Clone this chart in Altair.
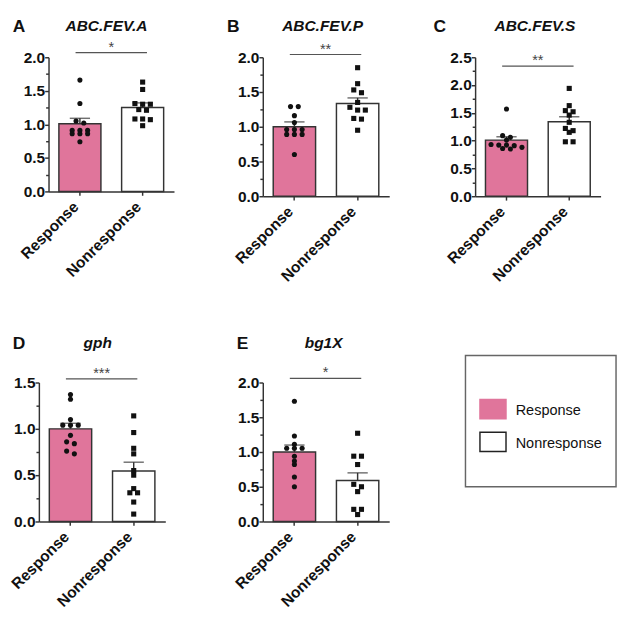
import altair as alt
import pandas as pd

# ---------------- data ----------------
groups = ["Response", "Nonresponse"]
panel_letters = ["A", "B", "C", "D", "E"]
panel_titles = ["ABC.FEV.A", "ABC.FEV.P", "ABC.FEV.S", "gph", "bg1X"]
y_max = [2.0, 2.0, 2.5, 1.5, 2.0]
stars = ["*", "**", "**", "***", "*"]
sig_y = [2.07, 2.04, 2.34, 1.54, 2.06]

resp_A = [1.66, 1.31, 1.05, 1.02, 0.91, 0.91, 0.91, 0.86, 0.86, 0.86, 0.74]
non_A = [1.63, 1.52, 1.31, 1.30, 1.30, 1.22, 1.21, 1.08, 1.08, 1.07, 0.98]
resp_B = [1.29, 1.29, 1.16, 1.06, 0.96, 0.96, 0.96, 0.89, 0.89, 0.89, 0.60]
non_B = [1.85, 1.62, 1.53, 1.49, 1.35, 1.28, 1.24, 1.24, 1.12, 1.11, 0.95]
resp_C = [1.57, 1.09, 1.06, 1.01, 0.93, 0.92, 0.92, 0.91, 0.88, 0.86, 0.85]
non_C = [1.94, 1.63, 1.54, 1.52, 1.46, 1.33, 1.22, 1.18, 1.15, 0.98, 0.98]
resp_D = [1.37, 1.32, 1.10, 1.04, 1.04, 1.04, 0.93, 0.86, 0.84, 0.76, 0.73]
non_D = [1.14, 0.96, 0.79, 0.73, 0.55, 0.50, 0.355, 0.31, 0.31, 0.21, 0.08]
resp_E = [1.73, 1.23, 1.11, 1.055, 1.055, 1.055, 0.94, 0.87, 0.82, 0.64, 0.50]
non_E = [1.27, 0.94, 0.94, 0.82, 0.535, 0.50, 0.43, 0.175, 0.175, 0.10]

resp_values = [resp_A, resp_B, resp_C, resp_D, resp_E]
non_values = [non_A, non_B, non_C, non_D, non_E]

bar_means = [[1.01, 1.25], [1.00, 1.335], [1.01, 1.34], [1.00, 0.545], [1.00, 0.59]]
bar_sem = [[0.08, 0.07], [0.07, 0.08], [0.06, 0.09], [0.06, 0.095], [0.10, 0.11]]

# ---------------- layout / style ----------------
PINK = "#E0759B"
DARK = "#333333"
FONT = "Liberation Sans"
PW = [130, 131, 130, 131, 131]
PH = [139, 144, 144, 144, 144]
XSHIFT = [0, 0, 0, 10, 0]          # axis pulled left of the cell origin
letter_dx = [-37, -37, -43, -37, -27]
title_cx = [60, 62, 62, 61, 63]
head_y = [-40, -40, -40, -49, -49]
P_INNER, P_OUTER = 0.33, 0.165


def swarm(vals, ymax, h, spacing=8.0, tol=3.0):
    order = sorted(range(len(vals)), key=lambda k: -vals[k])
    offs = [0.0] * len(vals)
    rows = []
    for k in order:
        py = vals[k] / ymax * h
        if rows and abs(rows[-1][0] - py) <= tol:
            rows[-1][1].append(k)
        else:
            rows.append([py, [k]])
    for _, idx in rows:
        n = len(idx)
        for j, k in enumerate(idx):
            offs[k] = (j - (n - 1) / 2) * spacing
    return offs


def panel(i):
    W, H, S = PW[i], PH[i], XSHIFT[i]
    step = W / (2 - P_INNER + 2 * P_OUTER)
    bw = step * (1 - P_INNER)

    ysc = alt.Scale(domain=[0, y_max[i]], nice=False, zero=True)
    xsc = alt.Scale(domain=groups, paddingInner=P_INNER, paddingOuter=P_OUTER,
                    range=[-S, W - S])
    xax = alt.Axis(title=None, labelAngle=-45, labelAlign="right", labelBaseline="middle",
                   tickSize=4, labelPadding=9, labelOffset=-4,
                   domainColor=DARK, tickColor=DARK)
    xenc = alt.X("group:N", scale=xsc, axis=xax)

    nmaj = int(round(y_max[i] / 0.5))
    major_vals = [k * 0.5 for k in range(nmaj + 1)]
    minor_vals = [k * 0.5 + 0.25 for k in range(nmaj)]
    major = alt.Axis(title=None, values=major_vals, format=".1f", tickSize=4,
                     labelPadding=0, labelOverlap=False, orient="left", grid=False,
                     offset=S)
    minor = alt.Axis(title=None, values=minor_vals, labels=False, domain=False,
                     tickSize=3, orient="left", grid=False, offset=S)

    bars_df = pd.DataFrame({
        "group": groups,
        "mean": bar_means[i],
        "top": [m + s for m, s in zip(bar_means[i], bar_sem[i])],
    })

    rv, nv = resp_values[i], non_values[i]
    offs = swarm(rv, y_max[i], H) + swarm(nv, y_max[i], H)
    pts_df = pd.DataFrame({
        "group": ["Response"] * len(rv) + ["Nonresponse"] * len(nv),
        "value": rv + nv,
        "off": [bw / 2 + o for o in offs],
    })

    bars = alt.Chart(bars_df).mark_bar(stroke=DARK, strokeWidth=1.5).encode(
        x=xenc,
        y=alt.Y("mean:Q", scale=ysc, axis=major),
        fill=alt.Fill("group:N", scale=alt.Scale(domain=groups, range=[PINK, "white"]), legend=None),
    )
    err = alt.Chart(bars_df).mark_rule(color=DARK, strokeWidth=1.5).encode(
        x=xenc,
        y=alt.Y("mean:Q", scale=ysc, axis=minor),
        y2="top:Q",
    )
    cap = alt.Chart(bars_df).mark_tick(color=DARK, thickness=1.5, size=21).encode(
        x=xenc,
        y=alt.Y("top:Q", scale=ysc, axis=None),
    )
    pts = alt.Chart(pts_df).mark_point(filled=True, color="#111111", opacity=1, size=28).encode(
        x=xenc,
        xOffset=alt.XOffset("off:Q", scale=None),
        y=alt.Y("value:Q", scale=ysc, axis=None),
        shape=alt.Shape("group:N", scale=alt.Scale(domain=groups, range=["circle", "square"]), legend=None),
    )
    one = pd.DataFrame({"letter": [panel_letters[i]], "title": [panel_titles[i]], "star": [stars[i]]})
    sig = alt.Chart(one).mark_rule(color="#555555", strokeWidth=1.2).encode(
        x=alt.value(28 - S), x2=alt.value(102 - S),
        y=alt.YDatum(sig_y[i], type="quantitative", scale=ysc, axis=None),
    )
    star = alt.Chart(one).mark_text(font=FONT, fontSize=15, color="#444444",
                                    baseline="alphabetic", dy=-1).encode(
        x=alt.value(65 - S),
        y=alt.YDatum(sig_y[i], type="quantitative", scale=ysc, axis=None),
        text="star:N",
    )
    letter = alt.Chart(one).mark_text(font=FONT, fontSize=18, fontWeight="bold", color="#111111",
                                      align="left", baseline="top").encode(
        x=alt.value(letter_dx[i]), y=alt.value(head_y[i]), text="letter:N")
    title = alt.Chart(one).mark_text(font=FONT, fontSize=16, fontWeight="bold", fontStyle="italic",
                                     color="#111111", align="center", baseline="top").encode(
        x=alt.value(title_cx[i] - S), y=alt.value(head_y[i]), text="title:N")

    return alt.layer(bars, err, cap, pts, sig, star, letter, title).resolve_axis(
        y="independent").properties(width=W - S, height=H)


panels = [panel(i) for i in range(5)]

# legend panel (cell origin is aligned with the top of panel D's plot)
LW = 156
leg_df = pd.DataFrame({"group": groups})
ysc_leg = alt.Scale(domain=groups, type="point", range=[27.5, 61.5], padding=0)
box = alt.Chart(pd.DataFrame({"b": [0]})).mark_rect(fillOpacity=0, stroke="#666666", strokeWidth=1.5).encode(
    x=alt.value(0), x2=alt.value(LW), y=alt.value(-28), y2=alt.value(108))
sw = alt.Chart(leg_df).mark_point(shape="M-1,-0.74H1V0.74H-1Z", size=729, filled=True,
                                  opacity=1, strokeWidth=1.5).encode(
    x=alt.value(28.5),
    y=alt.Y("group:N", scale=ysc_leg, axis=None),
    fill=alt.Fill("group:N", scale=alt.Scale(domain=groups, range=[PINK, "white"]), legend=None),
    stroke=alt.Stroke("group:N", scale=alt.Scale(domain=groups, range=[PINK, "#222222"]), legend=None),
)
txt = alt.Chart(leg_df).mark_text(align="left", baseline="middle", font=FONT, fontSize=15,
                                  color="#111111", dy=1).encode(
    x=alt.value(52),
    y=alt.Y("group:N", scale=ysc_leg, axis=None),
    text="group:N",
)
legend = alt.layer(box, sw, txt).properties(width=LW, height=80)

row1 = alt.hconcat(alt.hconcat(panels[0], panels[1], spacing=55), panels[2], spacing=46)
row2 = alt.hconcat(alt.hconcat(panels[3], panels[4], spacing=59), legend, spacing=78)

chart = alt.vconcat(row1, row2, spacing=53).properties(padding=0).configure_view(
    strokeWidth=0
).configure_axis(
    labelFont=FONT, labelFontSize=16, labelFontWeight="bold", labelColor="#111111",
    domainColor=DARK, domainWidth=1.5, tickColor=DARK, tickWidth=1.5, grid=False,
)

chart.save("out.html", embed_options={"renderer": "svg", "actions": False})
